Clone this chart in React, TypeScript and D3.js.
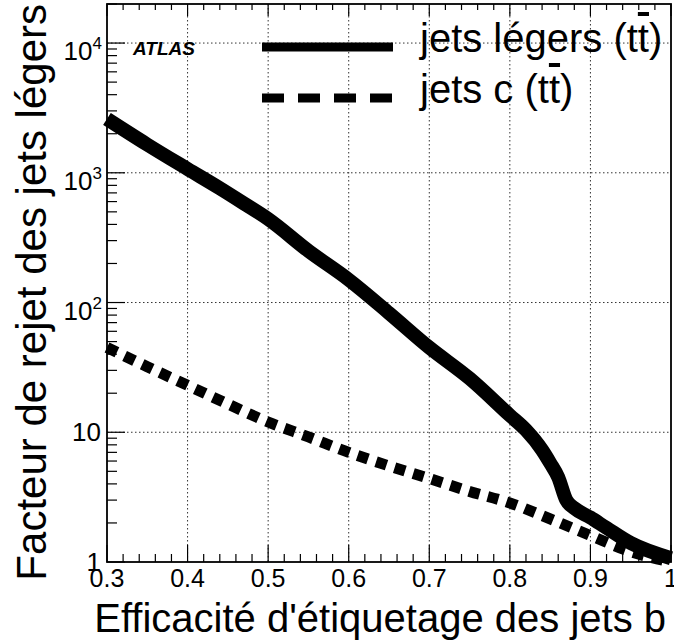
import * as d3 from "d3";

// b-tagging efficiency vs light / c jet rejection
const effLight = [0.3, 0.35, 0.4, 0.44, 0.47, 0.5, 0.55, 0.6, 0.65, 0.7, 0.75, 0.8, 0.82, 0.84, 0.85, 0.86, 0.87, 0.88, 0.9, 0.92, 0.95, 1.0];
const rejLight = [2600, 1650, 1070, 760, 580, 440, 250, 150, 83, 45, 26, 13.5, 10.4, 7.3, 5.8, 4.5, 3.0, 2.6, 2.2, 1.83, 1.4, 1.07];
const effC = [0.3, 0.35, 0.4, 0.45, 0.5, 0.55, 0.6, 0.65, 0.7, 0.75, 0.8, 0.85, 0.9, 0.95, 1.0];
const rejC = [45, 32, 23, 16.5, 12, 9.2, 7, 5.5, 4.4, 3.5, 2.85, 2.15, 1.6, 1.2, 1.0];

const xTickLabels = ["0.3", "0.4", "0.5", "0.6", "0.7", "0.8", "0.9", "1"];
const yDecades = [1, 10, 100, 1000, 10000];

const W = 674;
const H = 641;
const FRAME = { left: 107, right: 671, top: 4, bottom: 562 };
const FONT = "'Liberation Sans', Arial, Helvetica, sans-serif";

export default function App() {
  const x = d3.scaleLinear().domain([0.3, 1]).range([FRAME.left, FRAME.right]);
  const y = d3.scaleLog().domain([1, 2e4]).range([FRAME.bottom, FRAME.top]);

  const line = d3
    .line<[number, number]>()
    .x((d) => x(d[0]))
    .y((d) => y(d[1]))
    .curve(d3.curveMonotoneX);

  const lightPts = effLight.map((e, i) => [e, rejLight[i]] as [number, number]);
  const cPts = effC.map((e, i) => [e, rejC[i]] as [number, number]);

  const xMajor = x.ticks(7);
  const xMinor = d3.range(0, 36).map((i) => 0.3 + i * 0.02).filter((v) => v <= 1.0001);
  const yMinor = y.ticks().filter((v) => v >= 1 && v <= 2e4);

  const gridX = xMajor.filter((v) => v > 0.31 && v < 0.99);
  const gridY = yDecades.filter((v) => v > 1);

  return (
    <svg
      width={W}
      height={H}
      style={{ position: "absolute", left: 0, top: 0, background: "#fff" }}
      fontFamily={FONT}
    >
      {/* grid */}
      <g stroke="#333" strokeWidth={1} strokeDasharray="1.5,2.5">
        {gridX.map((v) => (
          <line key={"gx" + v} x1={x(v)} x2={x(v)} y1={FRAME.top} y2={FRAME.bottom} />
        ))}
        {gridY.map((v) => (
          <line key={"gy" + v} x1={FRAME.left} x2={FRAME.right} y1={y(v)} y2={y(v)} />
        ))}
      </g>

      {/* ticks */}
      <g stroke="#000" strokeWidth={1.2}>
        {xMinor.map((v, i) => {
          const major = i % 5 === 0;
          const len = major ? 17 : 8;
          const lenTop = major ? 12 : 6;
          return (
            <g key={"xt" + i}>
              <line x1={x(v)} x2={x(v)} y1={FRAME.bottom} y2={FRAME.bottom - len} />
              <line x1={x(v)} x2={x(v)} y1={FRAME.top} y2={FRAME.top + lenTop} />
            </g>
          );
        })}
        {yMinor.map((v, i) => {
          const major = yDecades.includes(v);
          return (
            <line key={"yt" + i} x1={FRAME.left} x2={FRAME.left + (major ? 18 : 10)} y1={y(v)} y2={y(v)} />
          );
        })}
      </g>

      {/* frame */}
      <rect
        x={FRAME.left}
        y={FRAME.top}
        width={FRAME.right - FRAME.left}
        height={FRAME.bottom - FRAME.top}
        fill="none"
        stroke="#000"
        strokeWidth={1.8}
      />

      {/* curves */}
      <path d={line(lightPts) ?? ""} fill="none" stroke="#000" strokeWidth={14} strokeLinejoin="round" />
      <path d={line(cPts) ?? ""} fill="none" stroke="#000" strokeWidth={11} strokeDasharray="11,8.5" />

      {/* x tick labels */}
      <g fontSize={25} textAnchor="middle" fill="#000">
        {xMajor.map((v, i) => (
          <text key={"xl" + i} x={x(v)} y={587}>
            {xTickLabels[i]}
          </text>
        ))}
      </g>

      {/* y tick labels */}
      <g fontSize={26} textAnchor="end" fill="#000">
        {yDecades.map((v) => {
          const k = Math.round(Math.log10(v));
          if (k <= 1) {
            return (
              <text key={"yl" + v} x={101} y={y(v) + 9}>
                {k === 0 ? "1" : "10"}
              </text>
            );
          }
          return (
            <text key={"yl" + v} x={102} y={y(v) + 17}>
              10
              <tspan fontSize={17} dy={-11}>
                {k}
              </tspan>
            </text>
          );
        })}
      </g>

      {/* axis titles */}
      <text x={666} y={632} fontSize={40} textAnchor="end" fill="#000">
        Efficacité d'étiquetage des jets b
      </text>
      <text
        transform={`translate(46,${FRAME.top}) rotate(-90)`}
        fontSize={42}
        textAnchor="end"
        fill="#000"
      >
        Facteur de rejet des jets légers
      </text>

      {/* ATLAS label */}
      <text x={133} y={55} fontSize={19} fontWeight="bold" fontStyle="italic" fill="#000">
        ATLAS
      </text>

      {/* legend */}
      <line x1={262} x2={393} y1={47} y2={47} stroke="#000" strokeWidth={9} />
      <line x1={262} x2={393} y1={98} y2={98} stroke="#000" strokeWidth={9} strokeDasharray="22,14" />
      <text x={420} y={52} fontSize={40} fill="#000">
        jets légers (t<tspan style={{ textDecoration: "overline" }}>t</tspan>)
      </text>
      <text x={420} y={103} fontSize={40} fill="#000">
        jets c (t<tspan style={{ textDecoration: "overline" }}>t</tspan>)
      </text>
    </svg>
  );
}
